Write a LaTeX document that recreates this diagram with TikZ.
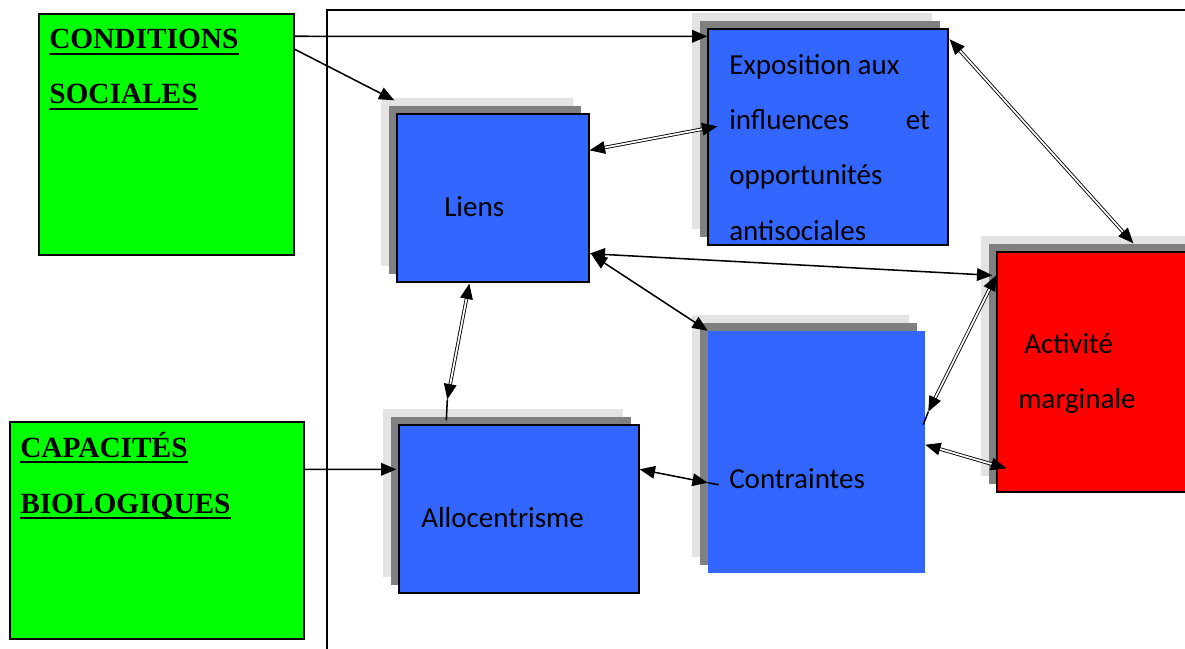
\documentclass[tikz,border=0pt]{standalone}
\usepackage{fontspec}
\setmainfont{Carlito}
\newfontfamily\timesf{Liberation Serif}
\usetikzlibrary{arrows.meta,calc,fit,shadows}
\definecolor{grn}{HTML}{00FF00}
\definecolor{blu}{HTML}{3366FF}
\definecolor{rd}{HTML}{FF0000}
\definecolor{shd}{HTML}{808080}
\definecolor{shl}{HTML}{E3E3E3}
\begin{document}
\begin{tikzpicture}[x=0.75pt,y=-0.75pt,
  >={Triangle[length=11.5pt,width=9.5pt]},
  greenbox/.style={fill=grn, draw=black, line width=1.1pt, inner sep=0pt},
  shbox/.style={inner sep=0pt,
     general shadow={fill=shl, draw=none, shadow xshift=-12pt, shadow yshift=12pt},
     general shadow={fill=shd, draw=none, shadow xshift=-6pt, shadow yshift=6pt}},
  bluebox/.style={shbox, fill=blu, draw=black, line width=1pt},
  plainblue/.style={shbox, fill=blu},
  redbox/.style={shbox, fill=rd, draw=black, line width=1pt},
  txt/.style={inner sep=0pt, anchor=base west, font=\fontsize{21.75}{26}\selectfont},
  gtxt/.style={inner sep=0pt, anchor=base west, font=\timesf\bfseries\fontsize{22}{26}\selectfont},
  uline/.style={line width=2pt},
  arr/.style={line width=1.15pt},
  dbl/.style={double, double distance=1.3pt, line width=0.65pt},
  frame/.style={line width=1pt}]
\clip (0,0) rectangle (1185,649);
\fill[white] (0,0) rectangle (1185,649);

% frame
\coordinate (fA) at (327,649);
\coordinate (fB) at (327,10);
\coordinate (fC) at (1185,10);
\draw[frame] (fA) -- (fB) -- (fC);

% green boxes
\node[greenbox, fit={(39,14) (294,255)}] (cond) {};
\node[greenbox, fit={(10,422) (304,639)}] (capa) {};

% blue / red boxes
\node[bluebox, fit={(397,114) (589,282)}] (liens) {};
\node[bluebox, fit={(708,29) (948,245)}] (expo) {};
\node[plainblue, fit={(708,331) (925,573)}] (contr) {};
\node[bluebox, fit={(399,425) (639,593)}] (alloc) {};
\node[redbox, fit={(997,252) (1240,492)}] (activ) {};

% texts
\node[gtxt] (tc1) at (49,49) {CONDITIONS};
\node[gtxt] (tc2) at (49,104) {SOCIALES};
\node[gtxt] (tb1) at (20,457) {CAPACITÉS};
\node[gtxt] (tb2) at (20,513) {BIOLOGIQUES};
\foreach \n in {tc1,tc2,tb1,tb2}
  \draw[uline] ([yshift=-3.8pt]\n.base west) -- ([yshift=-3.8pt]\n.base east);

\node[txt] (te1) at (729,75) {Exposition aux};
\node[txt] (te2) at (729,130) {influences};
\node[txt, anchor=base east] (te2b) at (930,130) {et};
\node[txt] (te3) at (729,185) {opportunités};
\node[txt] (te4) at (729,240) {antisociales};
\node[txt] (tl) at (444,216) {Liens};
\node[txt] (ta) at (421,527) {Allocentrisme};
\node[txt] (tco) at (729,488) {Contraintes};
\node[txt] (tac1) at (1024,353) {Activité};
\node[txt] (tac2) at (1018,408) {marginale};

% connectors
\draw[arr, ->] ($(cond.north east)+(0,23)$) -- ($(expo.north west)+(0,8)$);
\draw[arr, ->] ($(cond.north east)+(0,36)$) -- ($(liens.north west)+(-2,-13)$);
\draw[dbl, <->] ($(liens.north east)+(0,37)$) -- ($(expo.north west)+(10,98)$);
\draw[arr, <->] ($(liens.south east)+(0,-29)$) -- ($(activ.north west)+(-4,24)$);
\draw[arr, <->] ($(liens.south east)+(2,-28)$) -- (contr.north west);
\draw[dbl, <->] ($(expo.north east)+(1,11)$) -- ($(activ.north west)+(137,-8)$);
\draw[dbl, <->] ($(alloc.north west)+(49,-25)$) coordinate (a7) -- ($(liens.south west)+(73,1)$);
\draw[arr] ($(alloc.north west)+(48,-4)$) -- (a7);
\draw[arr, ->] ($(capa.north east)+(0,48)$) -- ($(alloc.north west)+(-2,45)$);
\draw[arr, <->] ($(alloc.north east)+(0,45)$) -- ($(contr.north west)+(0,152)$) coordinate (a9);
\draw[arr] (a9) -- ($(contr.north west)+(11,154)$);
\draw[dbl, <->] ($(activ.north west)+(0,24)$) -- ($(contr.north east)+(3,81)$) coordinate (a10);
\draw[arr] (a10) -- ($(contr.north east)+(-2,94)$);
\draw[dbl, <->] ($(contr.north east)+(0,114)$) -- ($(activ.north west)+(10,217)$);
\end{tikzpicture}
\end{document}
